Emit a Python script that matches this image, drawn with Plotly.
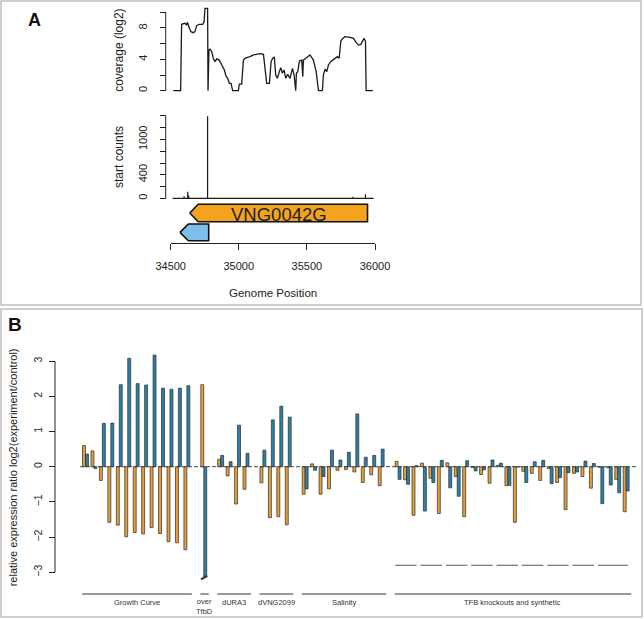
import plotly.graph_objects as go

W, H = 644, 619
def px(x):
    return x / W
def py(y):
    return 1 - y / H

FONT = "Liberation Sans, Arial, sans-serif"
INK = "#222222"

# ---------------- Panel A data ----------------
cov_pos = [34519, 34573, 34580, 34604, 34617, 34624, 34637, 34649, 34666, 34678, 34690, 34710,
           34735, 34745, 34752, 34771, 34774, 34781, 34789, 34801, 34813, 34826, 34838, 34857,
           34869, 34882, 34894, 34906, 34918, 34931, 34943, 34955, 34997, 35004, 35021, 35034,
           35046, 35063, 35083, 35107, 35132, 35156, 35181, 35193, 35205, 35225, 35237, 35249,
           35261, 35271, 35283, 35298, 35308, 35320, 35332, 35345, 35359, 35376, 35394, 35406,
           35418, 35423, 35433, 35445, 35462, 35470, 35474, 35492, 35511, 35523, 35536, 35548,
           35568, 35580, 35585, 35614, 35621, 35634, 35646, 35658, 35675, 35690, 35707, 35724,
           35737, 35749, 35763, 35780, 35817, 35842, 35861, 35878, 35896, 35910, 35920, 35930,
           35935, 35984]
cov_val = [0, 0, 8.47, 8.6, 8.4, 8.72, 7.96, 7.53, 7.4, 7.53, 8.3, 8.47,
           8.47, 8.8, 10.5, 10.5, 0, 5.2, 5.3, 5.0, 4.13, 3.7, 4.05, 3.9,
           3.5, 3.07, 2.64, 1.88, 1.58, 0.94, 0.94, 0, 0, 0.85, 0.85, 3.9,
           4.13, 4.26, 4.34, 4.56, 4.64, 4.73, 4.64, 2.64, 0.94, 0.94, 3.7, 4.13,
           4.26, 2.0, 1.58, 2.43, 2.94, 2.22, 2.64, 1.58, 2.09, 1.58, 2.85, 2.0,
           0, 2.22, 2.43, 3.79, 3.9, 1.79, 3.9, 4.13, 4.34, 4.56, 4.22, 3.9,
           2.43, 0.77, 0, 0, 2.0, 2.77, 2.43, 3.28, 3.7, 3.9, 4.13, 4.34,
           4.13, 6.33, 6.67, 6.89, 6.8, 6.67, 6.16, 5.82, 5.91, 6.33, 6.67, 6.33,
           0, 0]

start_pos = [34598, 34625, 34632, 34771, 35150, 35255, 35440, 35700, 35838, 35930]
start_cnt = [35, 110, 50, 1395, 10, 10, 10, 10, 25, 70]
start_span = [34514, 35990]

gene_names = ["VNG0042G", ""]
gene_tip = [34640, 34568]
gene_end = [35945, 34779]
gene_fill = ["#F5A31F", "#7EBFEA"]

cov_ticks = [0, 2, 4, 6, 8, 10]
cov_ticktext = ["0", "", "4", "", "8", ""]
cnt_ticks = [0, 200, 400, 600, 800, 1000, 1200, 1400]
cnt_ticktext = ["0", "", "400", "", "", "1000", "", ""]
pos_ticks = [34500, 35000, 35500, 36000]
pos_ticktext = ["34500", "35000", "35500", "36000"]

# ---------------- Panel B data ----------------
group_names = ["Growth Curve", "over<br>TfbD", "dURA3", "dVNG2099", "Salinity",
               "TFB knockouts and synthetic"]
orange_vals = [
    [0.6, 0.45, -0.39, -1.58, -1.66, -1.99, -1.87, -1.91, -1.73, -1.9, -2.13, -2.16, -2.36],
    [2.33],
    [0.21, -0.26, -1.06, -0.64],
    [-0.46, -1.45, -1.42, -1.65],
    [-0.78, 0.08, -0.78, -0.63, -0.1, -0.08, -0.15, -0.45, -0.23, -0.54],
    [0.15, -0.37, -1.38, 0.1, -0.33, -1.33, 0.11, -0.28, -1.42, -0.02, -0.22, -0.47, 0.04, -0.54,
     -1.58, -0.13, -0.19, -0.39, -0.05, -0.45, -1.22, -0.19, -0.28, -0.61, -0.01, -0.03, -0.36, -1.28],
]
blue_vals = [
    [0.36, -0.05, 1.23, 1.24, 2.33, 3.08, 2.36, 2.32, 3.17, 2.23, 2.2, 2.23, 2.3],
    [-3.13],
    [0.32, 0.14, 1.18, 0.38],
    [0.47, 1.33, 1.72, 1.41],
    [-0.63, -0.1, -0.28, 0.47, 0.19, 0.41, 1.5, 0.27, 0.32, 0.5],
    [-0.36, -0.5, 0.03, -1.26, -0.45, 0.18, -0.6, -0.84, 0.17, -0.12, -0.09, 0.19, 0.1, -0.53,
     -0.01, -0.45, 0.14, 0.18, -0.48, -0.31, -0.17, -0.15, 0.16, 0.09, -1.05, -0.52, -0.74, -0.69],
]
tfb_replicate_sets = [3, 3, 3, 3, 3, 3, 3, 3, 4]
b_ticks = [-3, -2, -1, 0, 1, 2, 3]

ORANGE = "#E6A03A"
BLUE = "#2B82A8"

slots_o, slots_b, vo, vb = [], [], [], []
group_slots = []
s = 0
for go_, gb_ in zip(orange_vals, blue_vals):
    first = s
    for a, b in zip(go_, gb_):
        slots_o.append(s); vo.append(a)
        slots_b.append(s); vb.append(b)
        s += 1
    group_slots.append((first, s - 1))
    s += 1  # empty slot between groups

fig = go.Figure()

fig.add_trace(go.Scatter(x=cov_pos, y=cov_val, mode="lines", xaxis="x", yaxis="y",
                         line=dict(color="#1a1a1a", width=1.3), hoverinfo="skip", showlegend=False))

sx, sy = [start_span[0]], [0]
for p, c in zip(start_pos, start_cnt):
    sx += [p, p, p]
    sy += [0, c, 0]
sx.append(start_span[1]); sy.append(0)
fig.add_trace(go.Scatter(x=sx, y=sy, mode="lines", xaxis="x", yaxis="y2",
                         line=dict(color="#1a1a1a", width=1.2), hoverinfo="skip", showlegend=False))

rows = [(21.6, 39.0), (2.6, 19.3)]
head = 62
for name, tip, end, col, (y0, y1) in zip(gene_names, gene_tip, gene_end, gene_fill, rows):
    ym = (y0 + y1) / 2
    fig.add_trace(go.Scatter(
        x=[tip, tip + head, end, end, tip + head, tip],
        y=[ym, y1, y1, y0, y0, ym], mode="lines", fill="toself", fillcolor=col,
        line=dict(color="#111", width=1.6), xaxis="x", yaxis="y3",
        hoverinfo="skip", showlegend=False))
    if name:
        fig.add_annotation(x=(tip + end) / 2, y=ym - 1.8, xref="x", yref="y3", text=name,
                           showarrow=False, font=dict(family=FONT, size=18.5, color=INK))

fig.add_trace(go.Bar(x=slots_o, y=vo, xaxis="x4", yaxis="y4", marker=dict(color=ORANGE,
                     line=dict(color="#2a2a2a", width=0.7)), showlegend=False, hoverinfo="skip"))
fig.add_trace(go.Bar(x=slots_b, y=vb, xaxis="x4", yaxis="y4", marker=dict(color=BLUE,
                     line=dict(color="#2a2a2a", width=0.7)), showlegend=False, hoverinfo="skip"))

shapes = []
shapes.append(dict(type="rect", xref="paper", yref="paper", x0=px(1), x1=px(641), y0=py(305), y1=py(1),
                   line=dict(color="#c0c0c0", width=1.5)))
shapes.append(dict(type="rect", xref="paper", yref="paper", x0=px(1), x1=px(642), y0=py(617), y1=py(309),
                   line=dict(color="#c0c0c0", width=1.5)))
shapes.append(dict(type="line", xref="paper", yref="y", x0=px(165.7), x1=px(165.7), y0=0, y1=10,
                   line=dict(color=INK, width=1)))
shapes.append(dict(type="line", xref="paper", yref="y2", x0=px(165.7), x1=px(165.7), y0=0, y1=1400,
                   line=dict(color=INK, width=1)))
shapes.append(dict(type="line", xref="paper", yref="y4", x0=px(55), x1=px(55), y0=-3, y1=3,
                   line=dict(color=INK, width=1)))
shapes.append(dict(type="line", xref="paper", yref="y4", x0=px(80), x1=px(638), y0=0, y1=0,
                   line=dict(color="#444", width=1, dash="4px,2px")))
brk = group_slots[1][0]
shapes.append(dict(type="line", xref="x4", yref="y4", x0=brk - 0.33, x1=brk + 0.41, y0=-3.2, y1=-3.1,
                   line=dict(color="#333", width=2)))
tfb_first = group_slots[5][0]
k = tfb_first
for n in tfb_replicate_sets:
    shapes.append(dict(type="line", xref="x4", yref="y4", x0=k - 0.35, x1=k + n - 1 + 0.2,
                       y0=-2.8, y1=-2.8, line=dict(color="#555", width=1)))
    k += n
line_y = 594
for name, (a, b) in zip(group_names, group_slots):
    shapes.append(dict(type="line", xref="x4", yref="paper", x0=a - 0.4, x1=b + 0.6,
                       y0=py(line_y), y1=py(line_y), line=dict(color="#333", width=1)))
    fig.add_annotation(x=(a + b) / 2 + 0.1, y=py(602 if "<br>" not in name else 606), xref="x4", yref="paper",
                       text=name, showarrow=False, yanchor="middle",
                       font=dict(family=FONT, size=7.5, color="#333"))

def ann(x, y, text, size, angle=0, bold=False, color=INK):
    fig.add_annotation(x=px(x), y=py(y), xref="paper", yref="paper", text=("<b>%s</b>" % text) if bold else text,
                       showarrow=False, textangle=angle, xanchor="center", yanchor="middle",
                       font=dict(family=FONT, size=size, color=color))

ann(34.5, 19.5, "A", 18, bold=True, color="#111")
ann(14.5, 324, "B", 19, bold=True, color="#111")
ann(118.3, 50.5, "coverage (log2)", 12, angle=-90)
ann(118.3, 156.7, "start counts", 12, angle=-90)
ann(272.7, 293, "Genome Position", 11.5)
ann(13.3, 467, "relative expression ratio log2(experiment/control)", 11, angle=-90)

axis_common = dict(showgrid=False, zeroline=False, automargin=False)
fig.update_layout(
    template="none",
    width=W, height=H, autosize=False,
    margin=dict(l=0, r=0, t=0, b=0, pad=0),
    paper_bgcolor="white", plot_bgcolor="rgba(0,0,0,0)",
    barmode="group", bargap=0.3, bargroupgap=0,
    shapes=shapes,
    xaxis=dict(domain=[px(170.7), px(375)], range=[34500, 36000], anchor="y3",
               showline=True, linecolor=INK, linewidth=1, ticks="outside", ticklen=6, tickcolor=INK,
               tickvals=pos_ticks, ticktext=pos_ticktext, tickfont=dict(family=FONT, size=11, color=INK),
               ticklabelstandoff=6, **axis_common),
    yaxis=dict(domain=[py(93.05), py(6.8)], range=[-0.3, 10.7], anchor="free", position=px(165.7),
               showline=False, ticks="outside", ticklen=6, tickcolor=INK, tickvals=cov_ticks,
               ticktext=cov_ticktext, tickangle=-90, tickfont=dict(family=FONT, size=11, color=INK),
               ticklabelstandoff=8, **axis_common),
    yaxis2=dict(domain=[py(199.5), py(114.8)], range=[-20, 1420], anchor="free", position=px(165.7),
                showline=False, ticks="outside", ticklen=6, tickcolor=INK, tickvals=cnt_ticks,
                ticktext=cnt_ticktext, tickangle=-90, tickfont=dict(family=FONT, size=11, color=INK),
                ticklabelstandoff=8, **axis_common),
    yaxis3=dict(domain=[py(243.3), py(201)], range=[0, 42.3], anchor="x", visible=False, **axis_common),
    xaxis4=dict(domain=[px(80), px(638)], range=[-0.65, 65.4], anchor="y4", visible=False, **axis_common),
    yaxis4=dict(domain=[py(600), py(340)], range=[-(600 - 466.7) / 35.2, (466.7 - 340) / 35.2],
                anchor="free", position=px(55), showline=False, ticks="outside", ticklen=6,
                tickcolor=INK, tickvals=b_ticks, tickangle=-90,
                tickfont=dict(family=FONT, size=10.5, color=INK), ticklabelstandoff=3, **axis_common),
)

fig.write_html("out.html", config={"displayModeBar": False, "responsive": False},
               post_script="document.body.style.margin='0';document.body.style.overflow='hidden';")
